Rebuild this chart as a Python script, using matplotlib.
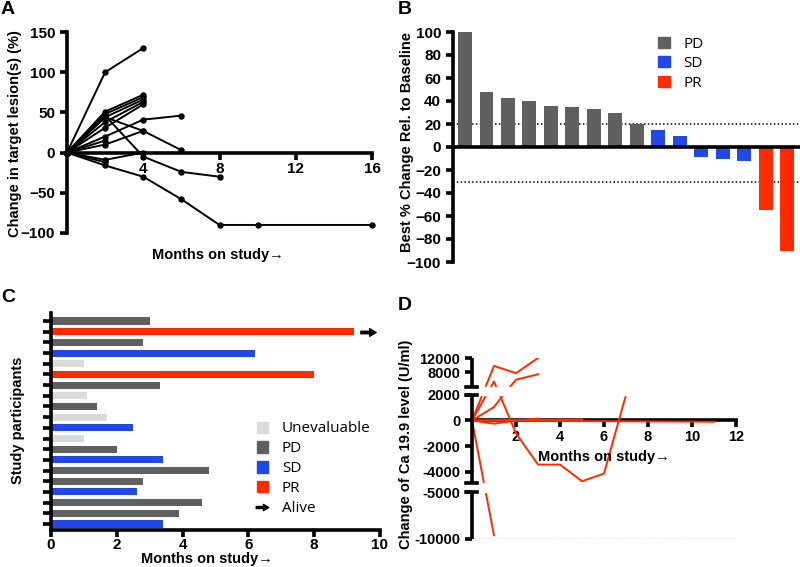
import numpy as np
import matplotlib

matplotlib.use("Agg")
import matplotlib.pyplot as plt
from matplotlib.patches import Patch
from matplotlib.lines import Line2D
from matplotlib.path import Path

plt.rcParams["font.family"] = ["Liberation Sans", "DejaVu Sans"]
plt.rcParams["font.weight"] = "bold"

GRAY = "#606060"
LIGHT = "#dadada"
BLUE = "#2348e8"
RED = "#ff2a00"
SPINE_W = 2.6

# ---- panel A: change in target lesions (months, %)
a_lines = [
    ([0, 2, 4], [0, 100, 130]),
    ([0, 2, 4], [0, 51, 72]),
    ([0, 2, 4], [0, 48, 69]),
    ([0, 2, 4], [0, 44, 66]),
    ([0, 2, 4], [0, 38, 63]),
    ([0, 2, 4], [0, 31, 60]),
    ([0, 2, 4, 6], [0, 20, 41, 46]),
    ([0, 2, 4, 6], [0, 44, 27, 3]),
    ([0, 2, 4], [0, 10, 27]),
    ([0, 2], [0, 15]),
    ([0, 2, 4, 6, 8], [0, 46, -5, -24, -30]),
    ([0, 2, 4], [0, -9, 0]),
    ([0, 2], [0, -12]),
    ([0, 2, 4, 6, 8, 10, 16], [0, -16, -30, -58, -90, -90, -90]),
]
a_xticks = [4, 8, 12, 16]
a_yticks = [-100, -50, 0, 50, 100, 150]

# ---- panel B: waterfall of best % change
b_values = [100, 48, 43, 40, 36, 35, 33, 30, 20, 15, 10, -9, -10, -12, -55, -90]
b_status = ["PD"] * 9 + ["SD"] * 5 + ["PR"] * 2
b_thresholds = [20, -30]

# ---- panel C: swimmer plot (top to bottom)
c_months = [3.0, 9.2, 2.8, 6.2, 1.0, 8.0, 3.3, 1.1, 1.4, 1.7,
            2.5, 1.0, 2.0, 3.4, 4.8, 2.8, 2.6, 4.6, 3.9, 3.4]
c_status = ["PD", "PR", "PD", "SD", "UE", "PR", "PD", "UE", "PD", "UE",
            "SD", "UE", "PD", "SD", "PD", "PD", "SD", "PD", "PD", "SD"]
c_alive = [1]

# ---- panel D: change of CA 19-9 (months, U/ml)
d_lines = [
    ([0, 1, 2, 3], [0, 9800, 7800, 12000]),
    ([0, 1, 1.4, 2, 3], [0, 1050, 1950, 6000, 7500]),
    ([0, 1, 2, 3, 4, 5, 6, 7], [0, 5500, -1000, -3450, -3450, -4750, -4150, 2000]),
    ([0, 1], [0, -9600]),
    ([0, 1, 2, 3], [0, -250, 0, 150]),
    ([0, 2, 5], [0, 50, 80]),
    ([0, 3, 11], [0, -30, -100]),
]
d_yticks = [-10000, -5000, -4000, -2000, 0, 2000, 8000, 12000]
d_xticks = [2, 4, 6, 8, 10, 12]

colors = {"PD": GRAY, "SD": BLUE, "PR": RED, "UE": LIGHT}

fig = plt.figure(figsize=(8, 5.67), dpi=100)
W, H = 800, 567


def px_axes(x0, y0, x1, y1):
    """axes from pixel box (top-left origin)"""
    return fig.add_axes([x0 / W, 1 - y1 / H, (x1 - x0) / W, (y1 - y0) / H])


def px_text(x, y, s, **kw):
    kw.setdefault("fontsize", 10.5)
    kw.setdefault("fontweight", "bold")
    return fig.text(x / W, 1 - y / H, s, ha="center", va="center", **kw)


def style(ax):
    for s in ["top", "right"]:
        ax.spines[s].set_visible(False)
    for s in ["left", "bottom"]:
        ax.spines[s].set_linewidth(SPINE_W)
    ax.tick_params(width=SPINE_W, length=5, labelsize=11)
    for lab in ax.get_xticklabels() + ax.get_yticklabels():
        lab.set_fontweight("bold")


legend_font = {"family": "Open Sans", "size": 11, "weight": "normal"}

# arrow marker
arrow = Path([(-1, -0.16), (0.15, -0.16), (0.15, -0.5), (1, 0), (0.15, 0.5),
              (0.15, 0.16), (-1, 0.16), (-1, -0.16)],
             [Path.MOVETO] + [Path.LINETO] * 6 + [Path.CLOSEPOLY])

# ================= A
axA = px_axes(67, 32, 372, 233)
for xs, ys in a_lines:
    axA.plot(xs, ys, color="black", lw=1.4, marker="o", ms=3.6, clip_on=False, zorder=3)
axA.set_xlim(0, 16)
axA.set_ylim(-100, 150)
axA.spines["bottom"].set_position(("data", 0))
axA.set_xticks(a_xticks)
axA.set_yticks(a_yticks)
style(axA)
axA.tick_params(axis="x", pad=2)
px_text(15, 134, "Change in target lesion(s) (%)", rotation=90)
px_text(218, 255, "Months on study→")

# ================= B
axB = px_axes(453, 32, 800, 262)
xb = np.arange(len(b_values))
axB.bar(xb, b_values, width=0.65, color=[colors[s] for s in b_status], zorder=2)
for t in b_thresholds:
    axB.axhline(t, color="black", ls=(0, (1, 1.5)), lw=1.1, zorder=1)
axB.set_xlim(-0.56, 15.6)
axB.set_ylim(-100, 100)
axB.spines["bottom"].set_position(("data", 0))
axB.set_xticks([])
axB.set_yticks(np.arange(-100, 101, 20))
style(axB)
px_text(407, 142, "Best % Change Rel. to Baseline", rotation=90)
axB.legend(handles=[Patch(color=colors[k]) for k in ["PD", "SD", "PR"]],
           labels=["PD", "SD", "PR"], loc="upper left", bbox_to_anchor=(0.592, 0.98),
           frameon=False, prop=legend_font,
           handlelength=0.75, handleheight=0.75, handletextpad=0.9,
           labelspacing=0.3, borderpad=0, borderaxespad=0)

# ================= C
axC = px_axes(51, 313, 380, 530)
yc = np.arange(len(c_months))
axC.barh(yc, c_months, height=0.66, color=[colors[s] for s in c_status], zorder=2)
for i in c_alive:
    axC.plot(c_months[i] + 0.45, yc[i], marker=arrow, ms=11, color="black", ls="none",
             clip_on=False)
axC.set_ylim(19.56, -0.75)
axC.set_xlim(0, 10)
axC.set_yticks(yc)
axC.set_yticklabels([])
axC.set_xticks(np.arange(0, 11, 2))
style(axC)
axC.tick_params(axis="y", length=6)
axC.tick_params(axis="x", pad=1)
px_text(18, 420, "Study participants", rotation=90)
px_text(207, 559, "Months on study→")
c_handles = [Patch(color=colors[k]) for k in ["UE", "PD", "SD", "PR"]]
c_handles.append(Line2D([], [], marker=arrow, ms=9, color="black", ls="none"))
axC.legend(handles=c_handles, labels=["Unevaluable", "PD", "SD", "PR", "Alive"],
           loc="upper left", bbox_to_anchor=(0.625, 0.5), frameon=False,
           prop=legend_font, handlelength=0.75, handleheight=0.75, handletextpad=0.9,
           labelspacing=0.32, borderpad=0, borderaxespad=0)

# ================= D (broken y axis, piecewise linear scale)
brk_data = [-1e6, -10000, -5000, -4900, 2000, 4000, 12000, 1e6]
brk_u = [-9306, 0, 47, 56, 144.5, 152.5, 181.5, 181.5 + (1e6 - 12000) * 29 / 8000]


def fwd(v):
    return np.interp(v, brk_data, brk_u)


def inv(u):
    return np.interp(u, brk_u, brk_data)


axD = px_axes(472, 358, 736, 539)
axD.set_yscale("function", functions=(fwd, inv))
for xs, ys in d_lines:
    axD.plot(xs, ys, color=RED, lw=1.4, zorder=3)
axD.hlines(-10000, 0, 12, color="black", ls=(0, (1, 1.5)), lw=0.9, zorder=1)
axD.set_xlim(0, 12)
axD.set_ylim(-10000, 12000)
axD.spines["bottom"].set_position(("data", 0))
axD.spines["left"].set_visible(False)
# hide data inside the two gaps
axD.axhspan(2000, 4000, color="white", zorder=4)
axD.axhspan(-5000, -4900, color="white", zorder=4)
axD.set_xticks(d_xticks)
axD.set_yticks(d_yticks)
axD.set_yticklabels([str(v) for v in d_yticks])
style(axD)
axD.tick_params(labelsize=10.5)
axD.tick_params(axis="x", pad=2)
# left spine segments with caps
for lo, hi in [(-10000, -5000), (-4900, 2000), (4000, 12000)]:
    axD.plot([0, 0], [lo, hi], color="black", lw=SPINE_W, solid_capstyle="butt",
             clip_on=False, zorder=5)
trD = axD.get_yaxis_transform()
for v in [-5000, -4900, 2000, 4000]:
    axD.plot([-0.022, 0.018], [v, v], color="black", lw=SPINE_W, transform=trD,
             clip_on=False, zorder=5)
px_text(406, 444, "Change of Ca 19.9 level (U/ml)", rotation=90)
px_text(604, 457, "Months on study→")

# panel letters
for lab, x, y in [("A", 8, 10), ("B", 405, 10), ("C", 8, 297), ("D", 405, 305)]:
    px_text(x, y, lab, fontsize=14)

fig.savefig("out.png", dpi=100)
